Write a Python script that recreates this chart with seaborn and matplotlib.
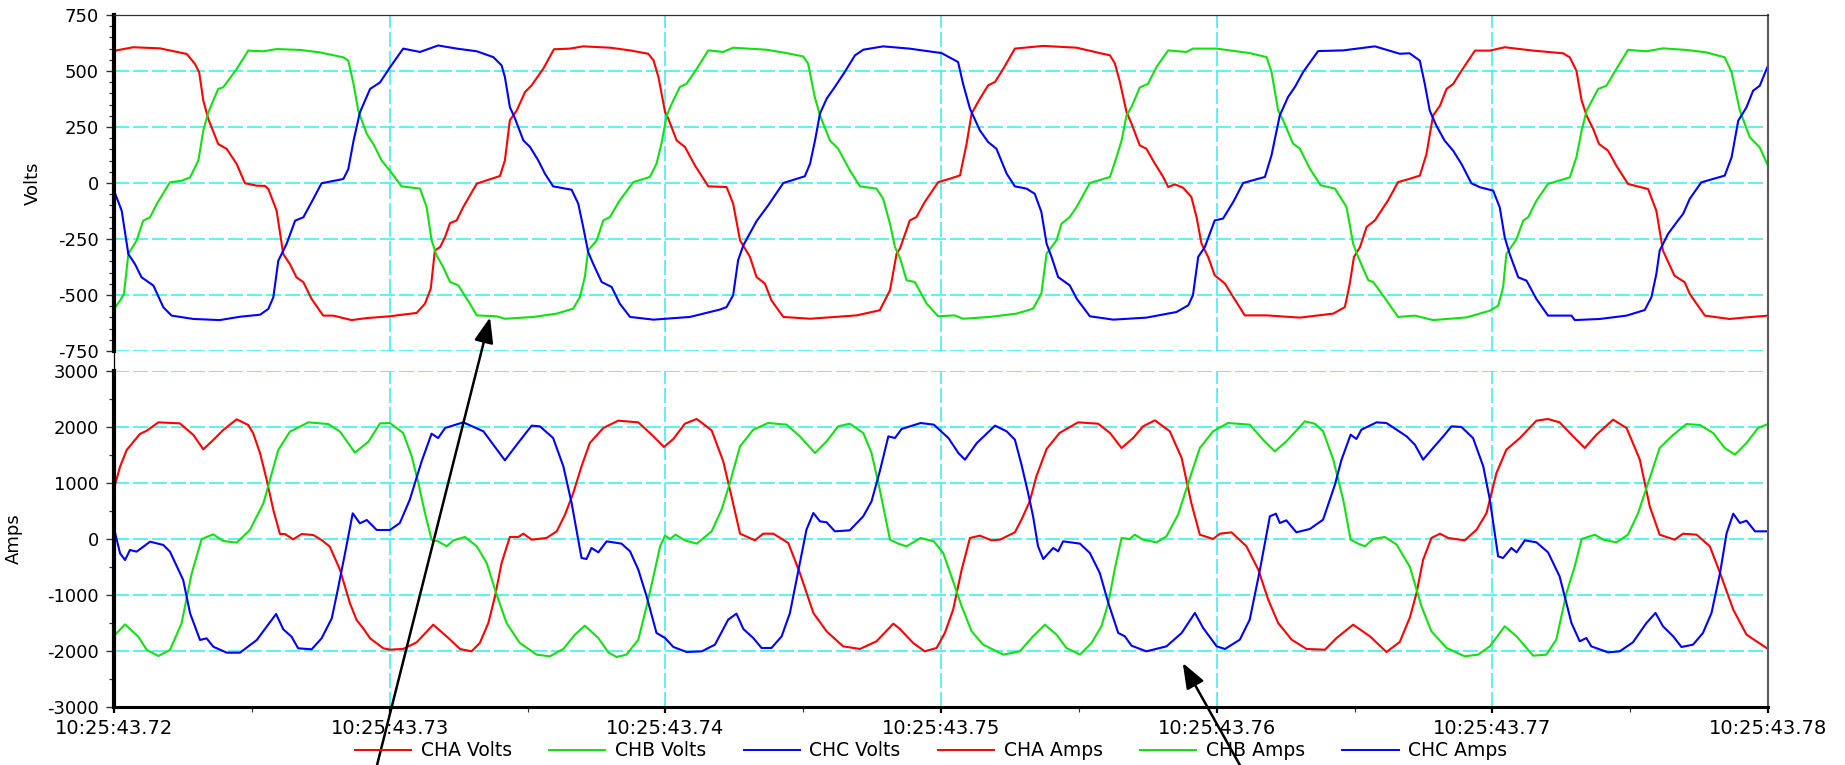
import numpy as np
import pandas as pd
import matplotlib
matplotlib.use("Agg")
import matplotlib.pyplot as plt
import seaborn as sns
from matplotlib.lines import Line2D
from matplotlib.ticker import FixedLocator, MultipleLocator

plt.rcParams['font.family'] = ['DejaVu Sans']

# ---------------- data (time in ms after 10:25:43.720, value) ----------------
T0 = 43.72  # seconds of 10:25
X_TICKS = [43.72, 43.73, 43.74, 43.75, 43.76, 43.77, 43.78]
X_LABELS = ["10:25:43.72", "10:25:43.73", "10:25:43.74", "10:25:43.75",
            "10:25:43.76", "10:25:43.77", "10:25:43.78"]
VOLT_TICKS = [-750, -500, -250, 0, 250, 500, 750]
AMP_TICKS = [-3000, -2000, -1000, 0, 1000, 2000, 3000]
SERIES = ["CHA Volts", "CHB Volts", "CHC Volts", "CHA Amps", "CHB Amps", "CHC Amps"]
COLORS = ["#ff0000", "#12e012", "#0000ff", "#ff0000", "#12e012", "#0000ff"]

CHA_VOLTS = [(0.0,590),(0.70,606),(1.67,601),(2.64,576),(2.94,531),(3.09,494),(3.24,368),(3.42,286),(3.78,174),(4.09,152),(4.45,85),(4.75,-1),(5.18,-12),(5.48,-13),(5.60,-27),(5.90,-124),(6.14,-317),(6.38,-362),(6.62,-421),(6.87,-443),(7.17,-518),(7.59,-592),(7.95,-592),(8.62,-612),(9.17,-603),(10.01,-595),(10.98,-580),(11.28,-539),(11.49,-472),(11.64,-301),(11.83,-286),(12.01,-241),(12.19,-179),(12.43,-167),(12.67,-107),(13.16,-3),(13.52,12),(14.00,31),(14.18,101),(14.36,280),(14.61,324),(14.91,406),(15.15,436),(15.57,510),(15.96,597),(16.54,600),(17.02,610),(18.00,604),(18.72,592),(19.38,577),(19.57,548),(19.75,473),(19.99,317),(20.11,287),(20.41,190),(20.71,161),(21.07,79),(21.56,-15),(22.22,-18),(22.46,-92),(22.71,-256),(23.07,-330),(23.31,-420),(23.61,-449),(23.85,-524),(24.28,-598),(25.25,-606),(26.94,-591),(27.78,-568),(28.15,-479),(28.39,-315),(28.51,-293),(28.87,-167),(29.11,-152),(29.41,-85),(29.90,4),(30.32,19),(30.69,34),(30.93,176),(31.11,310),(31.41,376),(31.71,436),(31.96,451),(32.26,510),(32.68,600),(33.71,612),(34.92,604),(35.76,580),(36.13,570),(36.31,533),(36.49,451),(36.73,317),(36.91,265),(37.21,168),(37.45,153),(37.76,86),(38.06,27),(38.24,-18),(38.48,-6),(38.78,-21),(39.08,-62),(39.27,-152),(39.45,-271),(39.69,-330),(39.93,-412),(40.30,-449),(40.60,-509),(41.02,-591),(41.81,-591),(43.02,-601),(44.23,-583),(44.65,-554),(44.83,-449),(44.98,-330),(45.20,-286),(45.44,-196),(45.74,-167),(46.22,-77),(46.58,4),(47.01,19),(47.37,33),(47.61,129),(47.85,301),(48.10,345),(48.34,420),(48.58,442),(48.88,501),(49.37,591),(49.91,591),(50.45,606),(51.48,591),(52.57,579),(52.81,561),(53.05,501),(53.24,368),(53.42,301),(53.66,241),(53.87,174),(54.20,144),(54.50,77),(54.92,-4),(55.65,-27),(55.95,-124),(56.19,-302),(56.61,-414),(56.98,-443),(57.16,-495),(57.71,-592),(58.61,-607),(59.22,-600),(60.0,-592)]

CHB_VOLTS = [(0.0,-562),(0.22,-525),(0.36,-496),(0.52,-317),(0.82,-257),(1.06,-168),(1.31,-153),(1.55,-94),(2.03,3),(2.45,10),(2.76,25),(3.06,100),(3.24,234),(3.42,315),(3.78,420),(3.96,427),(4.45,509),(4.87,591),(5.42,588),(5.90,598),(6.75,594),(7.47,583),(8.32,561),(8.50,546),(8.69,442),(8.86,323),(9.17,219),(9.41,174),(9.71,100),(10.01,55),(10.43,-15),(11.10,-25),(11.34,-107),(11.52,-256),(11.70,-323),(11.94,-375),(12.19,-442),(12.49,-457),(12.91,-539),(13.16,-591),(13.88,-595),(14.18,-606),(15.21,-598),(16.06,-583),(16.66,-561),(16.90,-509),(17.08,-420),(17.20,-301),(17.51,-256),(17.75,-167),(17.99,-152),(18.35,-77),(18.84,4),(19.44,27),(19.68,86),(19.86,176),(20.05,302),(20.29,369),(20.53,429),(20.77,443),(21.14,510),(21.56,592),(22.10,585),(22.46,604),(23.67,595),(24.40,580),(25.00,565),(25.18,533),(25.42,384),(25.61,302),(25.97,190),(26.27,153),(26.69,57),(27.06,-15),(27.66,-25),(27.90,-70),(28.15,-182),(28.33,-286),(28.51,-334),(28.75,-434),(29.05,-442),(29.48,-539),(29.90,-595),(30.50,-591),(30.80,-606),(31.77,-598),(32.74,-583),(33.34,-561),(33.64,-494),(33.83,-315),(34.19,-256),(34.37,-182),(34.67,-152),(34.92,-107),(35.40,0),(36.13,27),(36.37,116),(36.55,190),(36.73,302),(36.91,339),(37.21,426),(37.51,443),(37.82,518),(38.24,592),(38.90,585),(39.14,600),(39.99,600),(41.20,580),(41.81,562),(41.99,496),(42.23,324),(42.41,280),(42.77,176),(43.02,153),(43.38,64),(43.77,-10),(44.29,-25),(44.71,-107),(44.95,-271),(45.13,-330),(45.50,-434),(45.68,-442),(46.16,-524),(46.58,-598),(47.19,-592),(47.85,-612),(49.06,-600),(49.91,-570),(50.21,-548),(50.39,-466),(50.51,-317),(50.88,-250),(51.12,-168),(51.30,-153),(51.60,-79),(52.02,-4),(52.81,25),(53.05,115),(53.24,234),(53.42,323),(53.84,420),(54.14,434),(54.50,509),(54.92,594),(55.59,588),(56.19,601),(57.04,594),(57.77,583),(58.43,561),(58.68,494),(58.98,323),(59.34,204),(59.70,159),(60.0,77)]

CHC_VOLTS = [(0.0,-34),(0.28,-124),(0.52,-317),(0.76,-362),(1.00,-421),(1.43,-458),(1.79,-555),(2.09,-592),(2.88,-607),(3.84,-612),(4.57,-597),(5.30,-588),(5.60,-562),(5.78,-510),(5.96,-347),(6.26,-272),(6.57,-168),(6.87,-153),(7.23,-71),(7.53,-1),(8.32,18),(8.50,62),(8.69,189),(8.92,315),(9.29,420),(9.65,449),(10.01,516),(10.49,600),(11.10,585),(11.76,614),(12.43,600),(13.16,588),(13.76,562),(14.06,525),(14.18,473),(14.36,339),(14.55,287),(14.85,190),(15.09,161),(15.39,101),(15.63,42),(15.93,-15),(16.60,-30),(16.84,-92),(17.02,-196),(17.20,-308),(17.38,-360),(17.69,-442),(18.05,-464),(18.35,-539),(18.72,-598),(19.57,-610),(20.89,-598),(21.98,-565),(22.22,-554),(22.46,-501),(22.64,-345),(22.83,-278),(23.13,-211),(23.31,-170),(23.73,-100),(24.28,0),(25.06,30),(25.25,86),(25.43,190),(25.61,310),(25.85,376),(26.15,429),(26.51,496),(26.88,570),(27.18,595),(27.90,610),(28.85,600),(30.02,580),(30.62,540),(30.80,443),(31.05,332),(31.41,235),(31.71,183),(32.01,153),(32.38,42),(32.68,-15),(33.10,-25),(33.40,-48),(33.64,-129),(33.83,-271),(34.01,-330),(34.25,-420),(34.67,-457),(34.92,-516),(35.40,-595),(36.25,-610),(37.45,-601),(38.54,-576),(38.97,-546),(39.14,-501),(39.33,-330),(39.57,-286),(39.93,-167),(40.23,-159),(40.60,-85),(40.96,0),(41.75,27),(41.99,124),(42.29,302),(42.59,384),(42.84,429),(43.14,496),(43.68,589),(44.59,592),(45.74,610),(46.64,577),(47.00,579),(47.37,546),(47.55,442),(47.73,323),(47.97,256),(48.27,189),(48.58,144),(48.88,85),(49.24,-1),(49.55,-19),(50.03,-34),(50.27,-109),(50.45,-243),(50.63,-317),(50.94,-421),(51.24,-436),(51.60,-518),(52.02,-592),(52.87,-592),(52.99,-612),(53.90,-607),(54.87,-592),(55.53,-567),(55.77,-510),(55.95,-406),(56.07,-302),(56.37,-228),(56.68,-176),(56.92,-138),(57.16,-71),(57.58,3),(58.43,33),(58.68,115),(58.92,278),(59.22,338),(59.46,412),(59.70,434),(60.0,524)]

CHA_AMPS = [(0.0,905),(0.22,1292),(0.46,1589),(0.94,1875),(1.19,1934),(1.61,2083),(2.39,2065),(2.88,1857),(3.24,1601),(3.60,1768),(3.96,1946),(4.45,2137),(4.87,2036),(5.05,1887),(5.30,1530),(5.54,1054),(5.78,518),(6.02,89),(6.20,89),(6.50,-6),(6.81,89),(7.23,71),(7.53,-18),(7.83,-137),(8.20,-554),(8.56,-1149),(8.80,-1446),(9.04,-1595),(9.29,-1774),(9.77,-1952),(10.01,-1976),(10.49,-1964),(10.98,-1845),(11.58,-1530),(12.13,-1768),(12.55,-1964),(12.97,-2006),(13.27,-1857),(13.58,-1500),(13.82,-1024),(14.06,-429),(14.36,36),(14.67,36),(14.85,95),(15.15,-12),(15.69,18),(16.06,137),(16.36,435),(16.66,821),(16.96,1298),(17.26,1714),(17.75,1982),(18.29,2113),(19.02,2083),(19.57,1833),(19.95,1643),(20.29,1786),(20.71,2059),(21.14,2143),(21.68,1940),(22.10,1387),(22.40,762),(22.71,95),(23.25,-24),(23.55,95),(23.92,95),(24.46,-71),(24.88,-607),(25.37,-1321),(25.85,-1649),(26.45,-1917),(27.06,-1964),(27.66,-1827),(28.27,-1512),(28.51,-1607),(28.99,-1857),(29.41,-2006),(29.84,-1946),(30.14,-1678),(30.44,-1262),(30.75,-548),(31.05,18),(31.41,60),(31.83,-24),(32.14,-12),(32.68,119),(32.92,345),(33.22,673),(33.46,1119),(33.83,1607),(34.30,1893),(34.97,2083),(35.70,2059),(36.13,1893),(36.55,1625),(36.97,1803),(37.33,2012),(37.76,2119),(38.30,1923),(38.73,1446),(39.08,643),(39.39,77),(39.87,0),(40.12,95),(40.54,119),(41.08,-131),(41.51,-548),(41.87,-1083),(42.23,-1500),(42.72,-1798),(43.26,-1964),(43.93,-1976),(44.35,-1768),(44.95,-1530),(45.56,-1738),(46.16,-2018),(46.64,-1840),(47.01,-1400),(47.25,-964),(47.49,-369),(47.79,18),(48.10,95),(48.40,18),(49.00,-24),(49.43,167),(49.79,464),(50.15,1179),(50.51,1595),(51.00,1803),(51.60,2113),(52.02,2143),(52.44,2083),(52.93,1833),(53.35,1625),(53.78,1863),(54.38,2131),(54.87,1982),(55.35,1417),(55.71,583),(56.07,77),(56.61,-12),(56.92,95),(57.41,77),(57.89,-131),(58.26,-607),(58.74,-1262),(59.22,-1708),(60.0,-1964)]

CHB_AMPS = [(0.0,-1732),(0.40,-1524),(0.88,-1744),(1.19,-1982),(1.61,-2089),(2.03,-1982),(2.45,-1506),(2.82,-613),(3.18,0),(3.60,83),(3.96,-36),(4.45,-65),(4.93,161),(5.42,637),(5.96,1589),(6.38,1917),(7.05,2083),(7.77,2053),(8.20,1917),(8.74,1542),(9.23,1738),(9.65,2065),(10.01,2071),(10.49,1893),(10.80,1476),(11.04,1000),(11.28,464),(11.52,-12),(11.76,-42),(12.07,-131),(12.31,-24),(12.73,36),(13.16,-131),(13.52,-429),(13.88,-994),(14.24,-1500),(14.72,-1857),(15.33,-2065),(15.81,-2095),(16.30,-1964),(16.72,-1708),(17.08,-1548),(17.57,-1768),(17.93,-2024),(18.23,-2107),(18.59,-2065),(19.02,-1798),(19.32,-1202),(19.57,-667),(19.81,-131),(19.99,60),(20.17,0),(20.37,77),(20.71,-24),(21.14,-83),(21.68,137),(22.04,524),(22.34,1000),(22.71,1655),(23.19,1952),(23.73,2071),(24.40,2042),(24.88,1833),(25.43,1536),(25.85,1744),(26.27,2012),(26.69,2059),(27.18,1893),(27.48,1536),(27.78,881),(28.15,-12),(28.45,-83),(28.75,-131),(29.26,18),(29.74,-42),(30.08,-250),(30.44,-756),(30.75,-1202),(31.11,-1649),(31.53,-1887),(32.26,-2065),(32.86,-2006),(33.34,-1738),(33.77,-1530),(34.19,-1708),(34.55,-1946),(35.04,-2065),(35.46,-1857),(35.82,-1559),(36.07,-1143),(36.31,-518),(36.55,18),(36.85,0),(37.03,77),(37.33,-12),(37.82,-60),(38.18,48),(38.60,435),(38.97,1000),(39.39,1625),(39.87,1923),(40.41,2071),(41.20,2042),(41.68,1774),(42.11,1565),(42.53,1744),(43.20,2101),(43.56,2059),(43.86,1923),(44.23,1417),(44.59,702),(44.86,-12),(45.13,-83),(45.38,-131),(45.68,0),(46.10,36),(46.53,-101),(47.01,-500),(47.43,-1202),(47.79,-1649),(48.34,-1946),(49.00,-2095),(49.48,-2065),(49.91,-1917),(50.45,-1559),(50.88,-1738),(51.48,-2083),(51.96,-2065),(52.32,-1798),(52.69,-964),(52.99,-488),(53.24,0),(53.72,77),(54.02,-12),(54.50,-60),(54.92,77),(55.29,464),(55.65,1000),(56.07,1625),(56.50,1833),(57.04,2053),(57.53,2036),(58.01,1893),(58.43,1625),(58.80,1506),(59.22,1714),(59.64,1982),(60.0,2053)]

CHC_AMPS = [(0.0,190),(0.22,-256),(0.40,-375),(0.58,-196),(0.82,-226),(1.31,-48),(1.79,-107),(2.03,-226),(2.51,-732),(2.76,-1327),(3.12,-1803),(3.36,-1774),(3.60,-1923),(4.09,-2030),(4.57,-2030),(5.18,-1803),(5.54,-1565),(5.88,-1339),(6.14,-1613),(6.44,-1744),(6.68,-1952),(7.17,-1970),(7.53,-1774),(7.90,-1417),(8.14,-851),(8.38,-256),(8.66,458),(8.92,280),(9.17,339),(9.53,161),(10.01,161),(10.37,286),(10.73,702),(11.16,1387),(11.52,1881),(11.76,1803),(12.01,1982),(12.67,2083),(13.40,1923),(14.18,1405),(14.61,1684),(15.15,2024),(15.45,2012),(15.93,1803),(16.30,1298),(16.60,643),(16.96,-339),(17.14,-357),(17.32,-161),(17.57,-238),(17.87,-42),(18.41,-83),(18.72,-220),(19.02,-548),(19.32,-1024),(19.68,-1678),(19.99,-1768),(20.29,-1928),(20.77,-2018),(21.32,-2006),(21.80,-1887),(22.28,-1440),(22.58,-1333),(22.83,-1607),(23.19,-1768),(23.49,-1946),(23.85,-1946),(24.22,-1738),(24.52,-1321),(24.82,-577),(25.12,167),(25.37,464),(25.61,315),(25.85,298),(26.15,137),(26.69,155),(27.18,405),(27.48,673),(27.78,1208),(28.09,1833),(28.33,1803),(28.57,1964),(29.26,2071),(29.74,2042),(30.27,1803),(30.63,1536),(30.87,1417),(31.30,1714),(31.96,2024),(32.38,1923),(32.68,1774),(32.92,1327),(33.16,821),(33.34,405),(33.52,-131),(33.71,-357),(34.07,-161),(34.25,-220),(34.43,-42),(35.04,-83),(35.40,-250),(35.76,-607),(36.07,-1143),(36.43,-1678),(36.67,-1738),(36.91,-1905),(37.45,-2006),(38.18,-1917),(38.73,-1678),(39.21,-1321),(39.51,-1589),(40.00,-1917),(40.30,-1964),(40.84,-1798),(41.20,-1440),(41.57,-548),(41.93,405),(42.15,452),(42.29,286),(42.53,333),(42.89,119),(43.38,179),(43.86,345),(44.29,970),(44.53,1417),(44.86,1863),(45.07,1786),(45.25,1952),(45.80,2083),(46.16,2071),(46.89,1833),(47.19,1684),(47.49,1417),(47.85,1625),(48.22,1833),(48.52,2012),(48.88,2000),(49.30,1803),(49.67,1298),(49.91,702),(50.21,-310),(50.39,-339),(50.69,-161),(50.88,-238),(51.18,-24),(51.60,-60),(52.02,-238),(52.44,-667),(52.87,-1500),(53.17,-1827),(53.41,-1768),(53.59,-1917),(54.20,-2024),(54.62,-2006),(55.10,-1845),(55.59,-1500),(55.92,-1321),(56.19,-1559),(56.56,-1738),(56.86,-1928),(57.28,-1887),(57.64,-1678),(57.95,-1321),(58.26,-607),(58.50,107),(58.74,452),(58.98,286),(59.22,327),(59.53,137),(60.0,137)]

# annotation targets (time in ms, value)
ARROW1_TARGET = (13.64, -600)    # on CHB Volts trough
ARROW2_TARGET = (38.77, -2214)   # below CHC Amps trough


def frame(name, pairs):
    df = pd.DataFrame(pairs, columns=["ms", "value"])
    df["time"] = T0 + df["ms"] / 1000.0
    df["series"] = name
    return df


volts = pd.concat([frame("CHA Volts", CHA_VOLTS), frame("CHB Volts", CHB_VOLTS),
                   frame("CHC Volts", CHC_VOLTS)], ignore_index=True)
amps = pd.concat([frame("CHA Amps", CHA_AMPS), frame("CHB Amps", CHB_AMPS),
                  frame("CHC Amps", CHC_AMPS)], ignore_index=True)
palette = dict(zip(SERIES, COLORS))

W, H = 1845, 765
fig = plt.figure(figsize=(W / 100, H / 100), dpi=100)
fig.patch.set_facecolor("white")
ax1 = fig.add_axes([114 / W, 1 - 351 / H, 1654 / W, 336 / H])
ax2 = fig.add_axes([114 / W, 1 - 707 / H, 1654 / W, 336 / H])

sns.lineplot(data=volts, x="time", y="value", hue="series", hue_order=SERIES[:3],
             palette=palette, estimator=None, sort=False, linewidth=1.5,
             legend=False, ax=ax1)
sns.lineplot(data=amps, x="time", y="value", hue="series", hue_order=SERIES[3:],
             palette=palette, estimator=None, sort=False, linewidth=1.5,
             legend=False, ax=ax2)

GRID = dict(color="#45eeee", linestyle=(0, (9, 2.4)), linewidth=1.2)
minor_x = [(a + b) / 2 for a, b in zip(X_TICKS[:-1], X_TICKS[1:])]

for ax, yt, ylab, minor_step, labx in ((ax1, VOLT_TICKS, "Volts", 50, -0.0434),
                                       (ax2, AMP_TICKS, "Amps", 500, -0.055)):
    ax.set_xlim(X_TICKS[0], X_TICKS[-1])
    ax.set_ylim(yt[0], yt[-1])
    ax.set_yticks(yt)
    ax.set_yticklabels([str(v) for v in yt])
    ax.yaxis.set_minor_locator(MultipleLocator(minor_step))
    ax.set_xticks(X_TICKS)
    ax.set_axisbelow(True)
    ax.grid(True, which="major", axis="both", **GRID)
    ax.set_xlabel("")
    ax.set_ylabel(ylab, fontsize=13, color="black")
    ax.yaxis.set_label_coords(labx, 0.5)
    ax.tick_params(axis="y", which="major", direction="out", length=6, width=1,
                   color="#333333", labelsize=13, labelcolor="black", pad=5, left=True)
    ax.tick_params(axis="y", which="minor", direction="out", length=3.5, width=0.9,
                   color="#333333", left=True)
    ax.spines["left"].set_linewidth(3)
    ax.spines["left"].set_color("black")
    ax.spines["right"].set_linewidth(1.5)
    ax.spines["right"].set_color("#5a5a5a")

ax1.tick_params(axis="x", which="both", length=0, labelbottom=False)
ax1.spines["bottom"].set_visible(False)
ax1.spines["top"].set_linewidth(0.9)
ax1.spines["top"].set_color("#303030")

ax2.set_xticklabels(X_LABELS)
ax2.xaxis.set_minor_locator(FixedLocator(minor_x))
ax2.tick_params(axis="x", which="major", direction="out", length=4.3, width=1.6,
                color="black", labelsize=14, labelcolor="black", pad=4)
ax2.tick_params(axis="x", which="minor", direction="out", length=3.5, width=0.8,
                color="#333333")
ax2.spines["top"].set_visible(False)
ax2.spines["bottom"].set_linewidth(2.2)
ax2.spines["bottom"].set_color("black")

# connectors of the left and right axis lines across the gap between panels
p1, p2 = ax1.get_position(), ax2.get_position()
fig.add_artist(Line2D([p1.x0, p1.x0], [p2.y1, p1.y0], transform=fig.transFigure,
                      color="black", lw=0.9))
fig.add_artist(Line2D([p1.x1, p1.x1], [p2.y1, p1.y0], transform=fig.transFigure,
                      color="#5a5a5a", lw=1.5))

# arrows (drawn from ax2 so they sit above both panels)
ARROW = dict(arrowstyle="-|>,head_length=1.1,head_width=0.42", mutation_scale=14,
             color="black", lw=1.8, shrinkA=0, shrinkB=0)
ax2.annotate("", xy=(T0 + ARROW1_TARGET[0] / 1000, ARROW1_TARGET[1]),
             xycoords=ax1.transData, xytext=(372, -20), textcoords="figure pixels",
             arrowprops=ARROW, annotation_clip=False)
ax2.annotate("", xy=(T0 + ARROW2_TARGET[0] / 1000, ARROW2_TARGET[1]),
             xycoords="data", xytext=(1251, -20), textcoords="figure pixels",
             arrowprops=ARROW, annotation_clip=False)

handles = [Line2D([], [], color=c, lw=1.4) for c in COLORS]
fig.legend(handles, SERIES, loc="center", bbox_to_anchor=(931 / W, 1 - 751 / H),
           ncol=6, frameon=False, fontsize=13.5, handlelength=3.0,
           handletextpad=0.5, columnspacing=2.0, borderpad=0, borderaxespad=0)

fig.savefig("out.png", dpi=100, facecolor="white")
